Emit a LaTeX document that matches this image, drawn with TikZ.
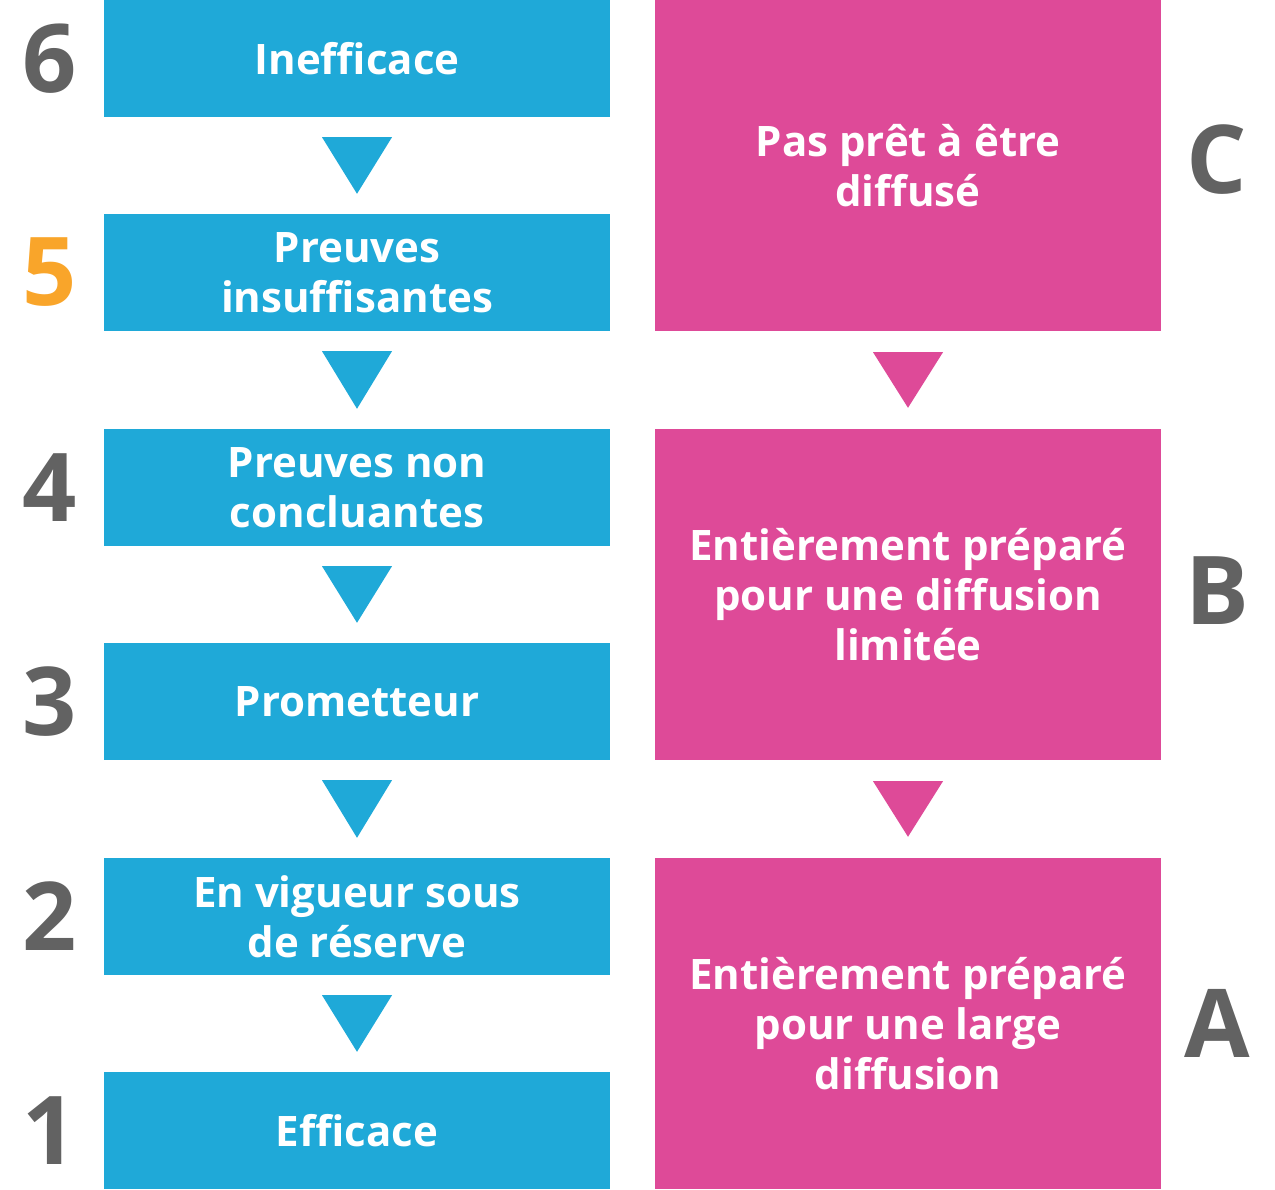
\documentclass[tikz,border=0pt]{standalone}
\usepackage{fontspec}
\setmainfont{Open Sans}
\usetikzlibrary{positioning,calc}
\definecolor{lvlblue}{HTML}{1FA9D8}
\definecolor{stgpink}{HTML}{DE4A98}
\definecolor{numgray}{HTML}{626262}
\definecolor{numorange}{HTML}{F9A52A}
\tikzset{
  levelbox/.style={fill=lvlblue, text=white, minimum width=506pt, minimum height=117pt,
    inner sep=0pt, align=center, font=\fontsize{42}{50}\selectfont\bfseries},
  stagebox/.style={levelbox, fill=stgpink, minimum height=331pt},
  bignum/.style={text=numgray, inner sep=0pt, font=\fontsize{95}{95}\selectfont\bfseries},
}
\begin{document}
\begin{tikzpicture}[x=1pt,y=-1pt]
\useasboundingbox (0,0) rectangle (1275,1190);
% levels
\node (l6) [levelbox] at (357,58.5) {Inefficace};
\node (l5) [levelbox] at (357,272.5) {Preuves\\insuffisantes};
\node (l4) [levelbox] at (357,487.5) {Preuves non\\concluantes};
\node (l3) [levelbox] at (357,701.5) {Prometteur};
\node (l2) [levelbox] at (357,916.5) {En vigueur sous\\de réserve};
\node (l1) [levelbox] at (357,1130.5) {Efficace};
% stages
\node (sC) [stagebox] at (908,165.5) {Pas prêt à être\\diffusé};
\node (sB) [stagebox] at (908,594.5) {Entièrement préparé\\pour une diffusion\\limitée};
\node (sA) [stagebox] at (908,1023.5) {Entièrement préparé\\pour une large\\diffusion};
% numbers and letters
\node (n6) [bignum] at ($(l6.west)+(-54,0)$) {6};
\node (n5) [bignum, text=numorange] at ($(l5.west)+(-54,0)$) {5};
\node (n4) [bignum] at ($(l4.west)+(-54,0)$) {4};
\node (n3) [bignum] at ($(l3.west)+(-54,0)$) {3};
\node (n2) [bignum] at ($(l2.west)+(-54,0)$) {2};
\node (n1) [bignum] at ($(l1.west)+(-54,0)$) {1};
\node (tC) [bignum] at ($(sC.east)+(56,-6)$) {C};
\node (tB) [bignum] at ($(sB.east)+(56,-4)$) {B};
\node (tA) [bignum] at ($(sA.east)+(56,0)$) {A};
% arrows
\foreach \a/\b in {l6/l5,l5/l4,l4/l3,l3/l2,l2/l1}
  \fill[lvlblue] ($(\a.south)+(-35,20)$) -- ($(\a.south)+(35,20)$) -- ($(\b.north)+(0,-20)$) -- cycle;
\foreach \a/\b in {sC/sB,sB/sA}
  \fill[stgpink] ($(\a.south)+(-35,21)$) -- ($(\a.south)+(35,21)$) -- ($(\b.north)+(0,-21)$) -- cycle;
\end{tikzpicture}
\end{document}
